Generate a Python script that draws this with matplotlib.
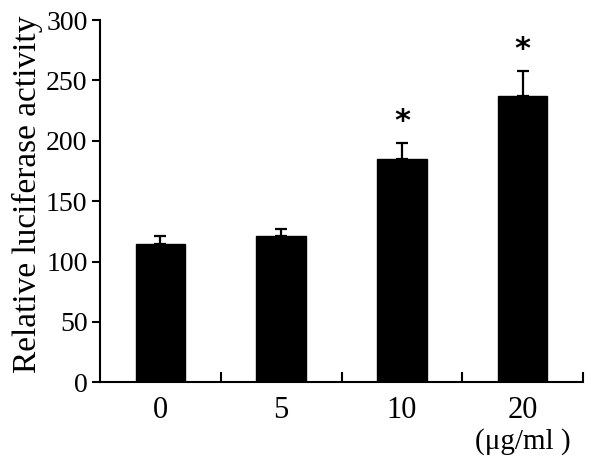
import matplotlib
matplotlib.use("Agg")
import matplotlib.pyplot as plt
import matplotlib.transforms as mtransforms

# data
doses = ["0", "5", "10", "20"]
activity = [115, 121, 185, 237]
errors = [6, 6, 13, 21]
significant = [False, False, True, True]

plt.rcParams['font.family'] = ['Liberation Serif', 'DejaVu Serif']

fig = plt.figure(figsize=(6, 4.68), dpi=100)
ax = fig.add_axes([0.1667, 0.183, 0.805, 0.774])

x = list(range(len(doses)))
ax.bar(x, activity, width=0.41, color='black', edgecolor='black', zorder=2)
ax.errorbar(x, activity, yerr=[[0] * len(errors), errors], fmt='none',
            ecolor='black', elinewidth=1.6, capsize=4, capthick=1.6, zorder=1)

for xi, v, e, s in zip(x, activity, errors, significant):
    if s:
        ax.text(xi, v + e + 18, '*', ha='center', va='center', fontsize=22,
                fontfamily='DejaVu Sans', fontweight='bold')

ax.set_xlim(-0.5, len(doses) - 0.5)
ax.set_ylim(0, 300)
ax.set_yticks(range(0, 301, 50))
ax.set_xticks(x)
ax.set_xticklabels(doses)
ax.set_xticks([i + 0.5 for i in x], minor=True)

ax.spines['top'].set_visible(False)
ax.spines['right'].set_visible(False)
ax.spines['left'].set_linewidth(1.5)
ax.spines['bottom'].set_linewidth(1.5)

ax.tick_params(axis='y', direction='out', length=6, width=1.5, labelsize=20, pad=3)
ax.tick_params(axis='x', which='major', length=0, labelsize=22, pad=10)
ax.tick_params(axis='x', which='minor', direction='in', length=7, width=1.5)

ax.set_ylabel('Relative luciferase activity', fontsize=24)
ax.yaxis.set_label_coords(-0.118, 0.52)

trans = mtransforms.blended_transform_factory(ax.transData, fig.transFigure)
ax.text(x[-1], 1 - 442 / 468, '(\u03bcg/ml )', ha='center', va='center',
        fontsize=21, transform=trans)

fig.savefig('out.png', dpi=100)
